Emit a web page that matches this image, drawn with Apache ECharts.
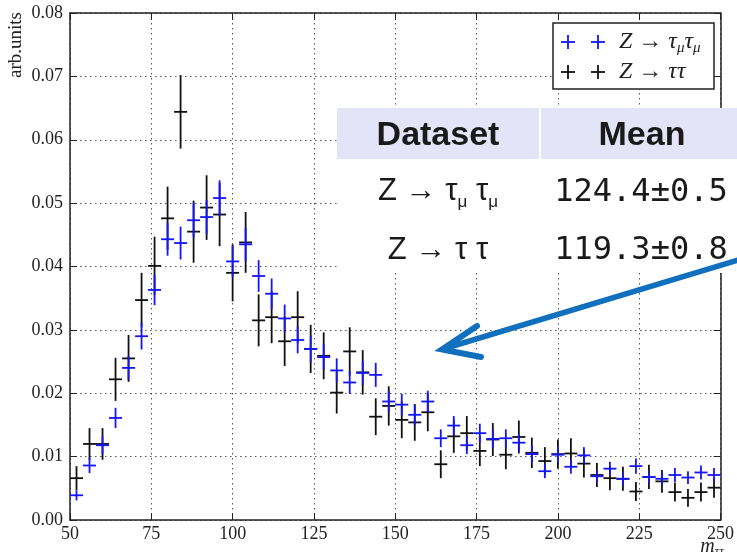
<!DOCTYPE html>
<html>
<head>
<meta charset="utf-8">
<script src="https://cdn.jsdelivr.net/npm/echarts@6/dist/echarts.min.js"></script>
<style>html,body{margin:0;padding:0;background:#fff}#c{width:737px;height:552px}</style>
</head>
<body>
<div id="c"></div>
<script>
// bin centres (m_tautau)
const binCenters = [52,56,60,64,68,72,76,80,84,88,92,96,100,104,108,112,116,120,124,128,132,136,140,144,148,152,156,160,164,168,172,176,180,184,188,192,196,200,204,208,212,216,220,224,228,232,236,240,244,248];
// Z -> tau tau (black)
const tautauVals = [0.0066,0.0120,0.0120,0.0222,0.0255,0.0347,0.0401,0.0476,0.0644,0.0455,0.0493,0.0482,0.0390,0.0438,0.0315,0.0320,0.0282,0.0320,0.0270,0.0259,0.0201,0.0266,0.0233,0.0163,0.0180,0.0158,0.0154,0.0170,0.0088,0.0132,0.0137,0.0109,0.0127,0.0103,0.0131,0.0106,0.0093,0.0104,0.0105,0.0089,0.0071,0.0066,0.0065,0.0045,0.0068,0.0061,0.0044,0.0035,0.0044,0.0051];
const tautauErr = [0.0019,0.0025,0.0025,0.0034,0.0037,0.0043,0.0046,0.0050,0.0058,0.0049,0.0051,0.0050,0.0045,0.0048,0.0041,0.0041,0.0039,0.0041,0.0038,0.0037,0.0033,0.0038,0.0035,0.0029,0.0031,0.0029,0.0029,0.0030,0.0022,0.0026,0.0027,0.0024,0.0026,0.0023,0.0026,0.0024,0.0022,0.0023,0.0024,0.0022,0.0019,0.0019,0.0019,0.0015,0.0019,0.0018,0.0015,0.0014,0.0015,0.0016];
// Z -> tau_mu tau_mu (blue)
const taumuVals = [0.0039,0.0086,0.0118,0.0161,0.0240,0.0290,0.0363,0.0443,0.0437,0.0473,0.0478,0.0508,0.0408,0.0435,0.0385,0.0357,0.0318,0.0284,0.0270,0.0257,0.0236,0.0217,0.0232,0.0229,0.0187,0.0182,0.0166,0.0187,0.0129,0.0149,0.0118,0.0137,0.0128,0.0129,0.0122,0.0104,0.0077,0.0103,0.0084,0.0102,0.0069,0.0081,0.0065,0.0085,0.0068,0.0065,0.0071,0.0067,0.0075,0.0071];
const taumuErr = [0.0008,0.0012,0.0014,0.0016,0.0019,0.0021,0.0024,0.0026,0.0026,0.0027,0.0027,0.0028,0.0025,0.0026,0.0025,0.0024,0.0022,0.0021,0.0021,0.0020,0.0019,0.0018,0.0019,0.0019,0.0017,0.0017,0.0016,0.0017,0.0014,0.0015,0.0014,0.0015,0.0014,0.0014,0.0014,0.0013,0.0011,0.0013,0.0011,0.0013,0.0010,0.0011,0.0010,0.0012,0.0010,0.0010,0.0011,0.0010,0.0011,0.0011];
const binHalfWidth = 2;
const xTicks = {min: 50, max: 250, interval: 25};
const yTicks = {min: 0, max: 0.08, interval: 0.01};
const tableHeader = ['Dataset', 'Mean'];
const tableMeans = ['124.4±0.5', '119.3±0.8'];

const chart = echarts.init(document.getElementById('c'));
const serif = 'Liberation Serif';
const axisColor = '#222';

function errRender(color) {
  return function (params, api) {
    const x = api.value(0), y = api.value(1), e = api.value(2);
    const c = api.coord([x, y]);
    const l = api.coord([x - binHalfWidth, y]);
    const r = api.coord([x + binHalfWidth, y]);
    const t = api.coord([x, y + e]);
    const b = api.coord([x, y - e]);
    const st = {stroke: color, lineWidth: 1.8};
    return {type: 'group', children: [
      {type: 'line', shape: {x1: l[0], y1: c[1], x2: r[0], y2: c[1]}, style: st},
      {type: 'line', shape: {x1: c[0], y1: t[1], x2: c[0], y2: b[1]}, style: st}
    ]};
  };
}

const spine = {show: true, onZero: false, lineStyle: {color: axisColor, width: 1.5}};
const tick = {show: true, inside: true, length: 7, lineStyle: {color: axisColor, width: 1}};
const grid = {show: true, lineStyle: {color: '#555', width: 1, type: [1.5, 3.5]}};

function plus(cx, cy, color) {
  return [
    {type: 'line', shape: {x1: cx - 7, y1: cy, x2: cx + 7, y2: cy}, style: {stroke: color, lineWidth: 1.8}, z: 102},
    {type: 'line', shape: {x1: cx, y1: cy - 7, x2: cx, y2: cy + 7}, style: {stroke: color, lineWidth: 1.8}, z: 102}
  ];
}

const blue = '#1414ff';
const black = '#111';
const arrowBlue = '#1170bd';

const option = {
  animation: false,
  backgroundColor: '#fff',
  grid: {left: 70, right: 13, top: 13, bottom: 32, containLabel: false},
  xAxis: [
    {type: 'value', position: 'bottom', min: xTicks.min, max: xTicks.max, interval: xTicks.interval,
     axisLine: spine, axisTick: tick, splitLine: grid,
     axisLabel: {fontFamily: serif, fontSize: 18, color: axisColor, margin: 5}},
    {type: 'value', position: 'top', min: xTicks.min, max: xTicks.max, interval: xTicks.interval,
     axisLine: spine, axisTick: tick, splitLine: {show: false}, axisLabel: {show: false}}
  ],
  yAxis: [
    {type: 'value', position: 'left', min: yTicks.min, max: yTicks.max, interval: yTicks.interval,
     axisLine: spine, axisTick: tick, splitLine: grid,
     axisLabel: {fontFamily: serif, fontSize: 18, color: axisColor, margin: 7, formatter: v => v.toFixed(2)}},
    {type: 'value', position: 'right', min: yTicks.min, max: yTicks.max, interval: yTicks.interval,
     axisLine: spine, axisTick: tick, splitLine: {show: false}, axisLabel: {show: false}}
  ],
  series: [
    {name: 'Z → ττ', type: 'custom', xAxisIndex: 0, yAxisIndex: 0, clip: true,
     renderItem: errRender(black), data: binCenters.map((x, i) => [x, tautauVals[i], tautauErr[i]])},
    {name: 'Z → τμτμ', type: 'custom', xAxisIndex: 0, yAxisIndex: 0, clip: true,
     renderItem: errRender(blue), data: binCenters.map((x, i) => [x, taumuVals[i], taumuErr[i]])}
  ],
  graphic: [
    // y axis name
    {type: 'text', x: 16, y: 45, rotation: Math.PI / 2, z: 100,
     style: {text: 'arb.units', fontFamily: serif, fontSize: 19, fill: axisColor, align: 'center', verticalAlign: 'middle'}},
    // x axis name
    {type: 'text', x: 712, y: 547, z: 100,
     style: {text: 'm{s|ττ}', fontFamily: serif, fontStyle: 'italic', fontSize: 20, fill: axisColor, align: 'center', verticalAlign: 'middle',
       lineHeight: 22, rich: {s: {fontFamily: serif, fontStyle: 'italic', fontSize: 13, verticalAlign: 'bottom', lineHeight: 12}}}},
    // legend box
    {type: 'rect', shape: {x: 553, y: 23, width: 161, height: 66}, z: 101,
     style: {fill: '#fff', stroke: axisColor, lineWidth: 1.5}},
    ...plus(568, 42, blue), ...plus(598, 42, blue),
    ...plus(568, 72, black), ...plus(598, 72, black),
    {type: 'text', x: 619, y: 42, z: 102,
     style: {text: 'Z → τ{s|μ}τ{s|μ}', fontFamily: serif, fontStyle: 'italic', fontSize: 24, fill: '#222', align: 'left', verticalAlign: 'middle',
       lineHeight: 28, rich: {s: {fontFamily: serif, fontStyle: 'italic', fontSize: 15, verticalAlign: 'bottom', lineHeight: 13}}}},
    {type: 'text', x: 619, y: 72, z: 102,
     style: {text: 'Z → ττ', fontFamily: serif, fontStyle: 'italic', fontSize: 24, fill: '#222', align: 'left', verticalAlign: 'middle'}},
    // table background
    {type: 'rect', shape: {x: 337, y: 108, width: 400, height: 165}, z: 110, style: {fill: '#fff'}},
    {type: 'rect', shape: {x: 337, y: 108, width: 202, height: 51}, z: 111, style: {fill: '#e4e4f8'}},
    {type: 'rect', shape: {x: 541, y: 108, width: 196, height: 51}, z: 111, style: {fill: '#e4e4f8'}},
    {type: 'text', x: 438, y: 136, z: 112,
     style: {text: tableHeader[0], fontFamily: 'Liberation Sans', fontWeight: 'bold', fontSize: 34, fill: '#1a1a1a', align: 'center', verticalAlign: 'middle'}},
    {type: 'text', x: 642, y: 136, z: 112,
     style: {text: tableHeader[1], fontFamily: 'Liberation Sans', fontWeight: 'bold', fontSize: 34, fill: '#1a1a1a', align: 'center', verticalAlign: 'middle'}},
    {type: 'text', x: 438, y: 191, z: 112,
     style: {text: 'Z → τ{s|μ} τ{s|μ}', fontFamily: 'Liberation Sans', fontSize: 31, fill: '#1a1a1a', align: 'center', verticalAlign: 'middle',
       lineHeight: 40, rich: {s: {fontFamily: 'Liberation Sans', fontSize: 17, verticalAlign: 'bottom', lineHeight: 16}}}},
    {type: 'text', x: 438, y: 250, z: 112,
     style: {text: 'Z → τ τ', fontFamily: 'Liberation Sans', fontSize: 31, fill: '#1a1a1a', align: 'center', verticalAlign: 'middle'}},
    {type: 'text', x: 641, y: 193, z: 112,
     style: {text: tableMeans[0], fontFamily: 'DejaVu Sans Mono', fontSize: 32, fill: '#1a1a1a', align: 'center', verticalAlign: 'middle'}},
    {type: 'text', x: 641, y: 251, z: 112,
     style: {text: tableMeans[1], fontFamily: 'DejaVu Sans Mono', fontSize: 32, fill: '#1a1a1a', align: 'center', verticalAlign: 'middle'}},
    // arrow
    {type: 'line', shape: {x1: 443, y1: 349, x2: 745, y2: 258}, z: 120,
     style: {stroke: arrowBlue, lineWidth: 5.5, lineCap: 'butt'}},
    {type: 'polyline', shape: {points: [[477, 326], [442, 349.5], [481, 357]]}, z: 120,
     style: {stroke: arrowBlue, fill: null, lineWidth: 6, lineJoin: 'miter', lineCap: 'round'}}
  ]
};
chart.setOption(option);
</script>
</body>
</html>
